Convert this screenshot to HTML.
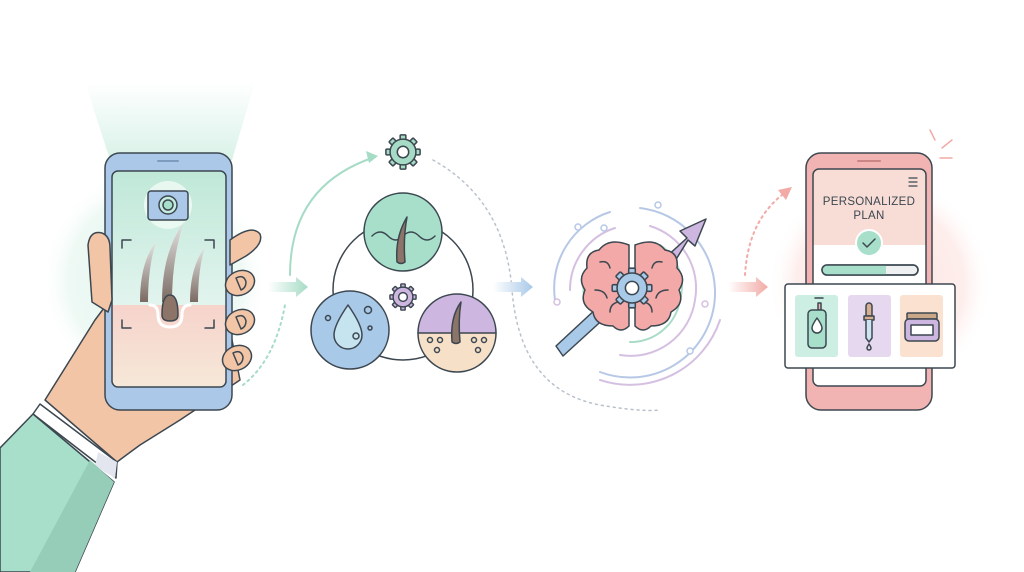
<!DOCTYPE html>
<html><head><meta charset="utf-8"><style>
html,body{margin:0;padding:0;background:#fff;}
svg{display:block;}
text{font-family:"Liberation Sans",sans-serif;}
</style></head><body>
<svg width="1024" height="572" viewBox="0 0 1024 572" xmlns="http://www.w3.org/2000/svg">
<defs>
<radialGradient id="gm" cx="0.5" cy="0.5" r="0.5"><stop offset="0" stop-color="#e2f5ed"/><stop offset="0.75" stop-color="#eef9f4"/><stop offset="1" stop-color="#fff" stop-opacity="0"/></radialGradient>
<radialGradient id="gp" cx="0.5" cy="0.5" r="0.5"><stop offset="0" stop-color="#fbe3df"/><stop offset="0.75" stop-color="#fdeeec"/><stop offset="1" stop-color="#fff" stop-opacity="0"/></radialGradient>
<linearGradient id="beam" x1="0" y1="0" x2="0" y2="1"><stop offset="0" stop-color="#fff"/><stop offset="1" stop-color="#d9f2e8"/></linearGradient>
<linearGradient id="scrTop" x1="0" y1="0" x2="0" y2="1"><stop offset="0" stop-color="#bfe8d8"/><stop offset="1" stop-color="#e2f4ee"/></linearGradient>
<linearGradient id="scrBot" x1="0" y1="0" x2="0" y2="1"><stop offset="0" stop-color="#f6d3cb"/><stop offset="1" stop-color="#f6e8d8"/></linearGradient>
<linearGradient id="hair" x1="0" y1="0" x2="0" y2="1"><stop offset="0" stop-color="#e4e4e4"/><stop offset="1" stop-color="#7a6a62"/></linearGradient>
<linearGradient id="a1" x1="0" x2="1"><stop offset="0" stop-color="#fff"/><stop offset="1" stop-color="#a6dcc6"/></linearGradient>
<linearGradient id="a2" x1="0" x2="1"><stop offset="0" stop-color="#fff"/><stop offset="1" stop-color="#a9c9e8"/></linearGradient>
<linearGradient id="a3" x1="0" x2="1"><stop offset="0" stop-color="#fff"/><stop offset="1" stop-color="#f2aaa6"/></linearGradient>
<g id="teeth">
<rect x="-9" y="-1.5" width="18" height="3" rx="0.5"/>
<rect x="-9" y="-1.5" width="18" height="3" rx="0.5" transform="rotate(45)"/>
<rect x="-9" y="-1.5" width="18" height="3" rx="0.5" transform="rotate(90)"/>
<rect x="-9" y="-1.5" width="18" height="3" rx="0.5" transform="rotate(135)"/>
</g>
</defs>
<g stroke="#3c4750" stroke-width="1.5" stroke-linejoin="round" stroke-linecap="round">
<!-- glows -->
<circle cx="155" cy="280" r="115" fill="url(#gm)" stroke="none"/>
<polygon points="85,82 255,82 232,160 110,160" fill="url(#beam)" stroke="none"/>
<circle cx="880" cy="285" r="112" fill="url(#gp)" stroke="none"/>

<!-- sleeve & hand -->
<path d="M45,400 L95,320 L110,300 L230,330 L240,380 L180,420 L140,445 L117,462 Z" fill="#f3c5a7"/>
<path d="M40,404 L117,462 L116,478 L33,414 Z" fill="#fff"/>
<path d="M98,452 L117,462 L115,478 L95,466 Z" fill="#e3e5ef" stroke="none"/>
<path d="M0,448 L33,414 L114,482 L75,572 L0,572 Z" fill="#a8dfcb"/>
<path d="M90,460 L114,482 L75,572 L30,572 Z" fill="#96cdb9" stroke="none"/>

<!-- phone 1 -->
<rect x="105" y="153" width="127" height="257" rx="15" fill="#abc8e8"/>
<line x1="158" y1="161" x2="178" y2="161" stroke="#7d9bbd" stroke-width="2"/>
<path d="M112,305 V177 a6,6 0 0 1 6,-6 H220 a6,6 0 0 1 6,6 V305 Z" fill="url(#scrTop)" stroke="none"/>
<path d="M112,305 H226 V381 a6,6 0 0 1 -6,6 H118 a6,6 0 0 1 -6,-6 Z" fill="url(#scrBot)" stroke="none"/>
<rect x="112" y="171" width="114" height="216" rx="6" fill="none"/>
<circle cx="168" cy="205" r="24" fill="#eefaf5" stroke="none" opacity="0.85"/>
<rect x="148" y="191" width="40" height="29" rx="3" fill="#abc8e8"/>
<circle cx="168" cy="205" r="9" fill="#c6ece0"/><circle cx="168" cy="205" r="5" fill="#a8dfcb"/>
<path d="M122,248 v-8 h9 M205,240 h9 v8 M122,320 v8 h9 M214,320 v8 h-9" fill="none"/>
<path d="M140,302 q0,-40 16,-60 q-8,25 -8,60 Z" fill="url(#hair)" stroke="none"/>
<path d="M162,302 q0,-50 22,-80 q-12,35 -12,80 Z" fill="url(#hair)" stroke="none"/>
<path d="M190,302 q0,-35 15,-55 q-7,22 -7,55 Z" fill="url(#hair)" stroke="none"/>
<path d="M150,305 q8,0 8,10 q0,12 12,12 q12,0 12,-12 q0,-10 8,-10" fill="none" stroke="#fff" stroke-width="3"/>
<path d="M162,315 q0,-20 8,-20 q8,0 8,20 q0,6 -8,6 q-8,0 -8,-6Z" fill="#8c7468"/>
<!-- thumb -->
<path d="M108,312 L92,302 L88,245 q2,-15 14,-12 q8,3 8,15 L112,300 Z" fill="#f3c5a7"/>
<!-- fingers -->
<path d="M230,240 q22,-16 30,-6 q4,10 -14,22 L230,265 Z" fill="#f3c5a7"/>
<ellipse cx="240" cy="283" rx="15" ry="12" fill="#f3c5a7" transform="rotate(-25 240 283)"/>
<ellipse cx="240" cy="322" rx="15" ry="12" fill="#f3c5a7" transform="rotate(-25 240 322)"/>
<ellipse cx="237" cy="358" rx="15" ry="12" fill="#f3c5a7" transform="rotate(-25 237 358)"/>
<path d="M236,278 q8,-4 10,4 q0,6 -5,8Z M236,317 q8,-4 10,4 q0,6 -5,8Z M233,353 q8,-4 10,4 q0,6 -5,8Z" fill="#f3c5a7"/>

<!-- connector 1 -->
<polygon points="268,282 296,282 296,277 308,287 296,297 296,292 268,292" fill="url(#a1)" stroke="none"/>
<path d="M290,275 Q290,185 375,157" fill="none" stroke="#a6dcc6" stroke-width="2"/>
<polygon points="378,156 366,151 369,163" fill="#a6dcc6" stroke="none"/>
<path d="M243,385 Q275,360 285,305" fill="none" stroke="#a6dcc6" stroke-width="2" stroke-dasharray="2,4"/>

<!-- gear top -->
<g transform="translate(403,152) scale(1.9)" fill="#a6dcc6" stroke-width="0.8">
<use href="#teeth"/>
<circle r="6.8"/><circle r="3" fill="#fff"/>
</g>
<path d="M433,160 Q505,200 512,290 Q520,390 600,405 Q640,412 660,410" fill="none" stroke="#b8c2cc" stroke-width="1.5" stroke-dasharray="2,4"/>

<!-- cluster -->
<circle cx="403" cy="290" r="70" fill="#fff"/>
<circle cx="403" cy="232" r="39" fill="#a8dfcb"/>
<path d="M372,236 q8,-8 16,0 q8,8 15,0 q8,-8 16,0 q8,8 16,0" fill="none"/>
<path d="M397,262 q-2,-25 10,-45 q-4,22 -2,45 q-4,3 -8,0Z" fill="#8c7468"/>
<circle cx="350" cy="330" r="39" fill="#a9c9e8"/>
<path d="M348,305 q-14,20 -14,30 a14,14 0 0 0 28,0 q0,-10 -14,-30Z" fill="#c6e3f0"/>
<circle cx="368" cy="310" r="3.5" fill="none"/><circle cx="328" cy="318" r="2.5" fill="none"/><circle cx="370" cy="328" r="2" fill="none"/><circle cx="356" cy="336" r="3" fill="none"/>
<path d="M457,294 a39,39 0 0 1 39,39 H418 a39,39 0 0 1 39,-39Z" fill="#cdb6e0" stroke="none"/>
<path d="M418,333 H496 a39,39 0 0 1 -78,0Z" fill="#f6e0c8" stroke="none"/>
<circle cx="457" cy="333" r="39" fill="none"/>
<line x1="418" y1="333" x2="496" y2="333"/>
<path d="M452,342 q-2,-25 9,-40 q-3,18 -1,40 q-4,3 -8,0Z" fill="#8c7468"/>
<circle cx="430" cy="340" r="2.5" fill="none"/><circle cx="440" cy="340" r="2.5" fill="none"/><circle cx="474" cy="340" r="2.5" fill="none"/><circle cx="484" cy="340" r="2.5" fill="none"/><circle cx="437" cy="350" r="2.5" fill="none"/><circle cx="478" cy="350" r="2.5" fill="none"/>
<g transform="translate(403,297) scale(1.45)" fill="#cdb6e0" stroke-width="1">
<use href="#teeth"/>
<circle r="6.8"/><circle r="3" fill="#fff"/>
</g>

<!-- connector 2 -->
<polygon points="493,282 521,282 521,277 533,287 521,297 521,292 493,292" fill="url(#a2)" stroke="none"/>

<!-- brain rings -->
<g fill="none" stroke-width="2">
<path d="M555,300 A80,80 0 0 1 610,212" stroke="#b7c8e6"/>
<path d="M640,208 A85,85 0 0 1 715,290 A85,85 0 0 1 600,372" stroke="#b7c8e6"/>
<path d="M570,290 A65,65 0 0 1 615,228" stroke="#d5c0e2"/>
<path d="M650,226 A65,65 0 0 1 695,300 A65,65 0 0 1 620,355" stroke="#d5c0e2"/>
<path d="M585,300 A50,50 0 0 1 600,250" stroke="#a8dcc6"/>
<path d="M660,245 A50,50 0 0 1 680,300 A50,50 0 0 1 630,342" stroke="#a8dcc6"/>
<path d="M600,380 A95,95 0 0 0 720,320" stroke="#d5c0e2"/>
</g>
<circle cx="578" cy="227" r="3" fill="#fff" stroke="#b7c8e6"/>
<circle cx="604" cy="228" r="3" fill="#fff" stroke="#b7c8e6"/>
<circle cx="658" cy="205" r="3" fill="#fff" stroke="#b7c8e6"/>
<circle cx="705" cy="304" r="3" fill="#fff" stroke="#d5c0e2"/>
<circle cx="690" cy="351" r="3" fill="#fff" stroke="#b7c8e6"/>
<circle cx="557" cy="302" r="3" fill="#fff" stroke="#d5c0e2"/>
<!-- arrow -->
<polygon points="556,346 563,356 620,304 612,294" fill="#a9c9e8"/>
<polygon points="665,258 687,238 680,231 706,219 695,246 688,240 672,266" fill="#cdb6e0"/>
<!-- brain -->
<path d="M629,245 q-20,-8 -30,5 q-14,2 -12,18 q-10,10 -2,22 q-6,14 8,22 q2,14 20,14 q8,8 16,0 Z" fill="#f2a9a7"/>
<path d="M635,245 q20,-8 30,5 q14,2 12,18 q10,10 2,22 q6,14 -8,22 q-2,14 -20,14 q-8,8 -16,0 Z" fill="#f2a9a7"/>
<path d="M600,262 q8,-2 10,6 M595,290 q10,0 12,8 M610,312 q0,-8 8,-10 M662,262 q-8,-2 -10,6 M668,290 q-10,0 -12,8 M652,312 q0,-8 -8,-10" fill="none"/>
<g transform="translate(632,288) scale(2.2)" fill="#a9c9e8" stroke-width="0.7">
<use href="#teeth"/>
<circle r="6.8"/><circle r="3" fill="#fff"/>
</g>

<!-- connector 3 -->
<polygon points="728,282 756,282 756,277 768,287 756,297 756,292 728,292" fill="url(#a3)" stroke="none"/>
<path d="M745,275 Q748,222 782,195" fill="none" stroke="#f2aaa6" stroke-width="2" stroke-dasharray="2,4"/>
<polygon points="792,187 778,190 786,200" fill="#f2aaa6" stroke="none"/>
<path d="M935,140 L930,130 M942,148 L952,140 M940,158 L952,158" stroke="#f2aaa6" stroke-width="1.5"/>

<!-- phone 3 -->
<rect x="806" y="153" width="126" height="257" rx="15" fill="#f2b4b2"/>
<line x1="858" y1="161" x2="880" y2="161" stroke="#c98583" stroke-width="2"/>
<path d="M813,245 V175 a6,6 0 0 1 6,-6 H920 a6,6 0 0 1 6,6 V245 Z" fill="#f8dcd6" stroke="none"/>
<path d="M813,245 H926 V380 a6,6 0 0 1 -6,6 H819 a6,6 0 0 1 -6,-6 Z" fill="#fff" stroke="none"/>
<rect x="813" y="169" width="113" height="217" rx="6" fill="none"/>
<path d="M909,178 h8 M909,182 h8 M909,186 h8" stroke-width="1.2"/>
<text x="869" y="205" font-size="11.5" text-anchor="middle" fill="#3c4750" stroke="none" letter-spacing="0.3">PERSONALIZED</text>
<text x="869" y="219" font-size="11.5" text-anchor="middle" fill="#3c4750" stroke="none" letter-spacing="0.3">PLAN</text>
<circle cx="869" cy="243" r="13" fill="#a8dfcb" stroke="#fff" stroke-width="2"/>
<path d="M863,243 l4,4 l8,-8" fill="none" stroke="#3c4750"/>
<rect x="822" y="265" width="96" height="10" rx="5" fill="#eef0f2"/>
<path d="M827,265 H886 V275 H827 a5,5 0 0 1 0,-10Z" fill="#a8dfcb" stroke="none"/>
<rect x="822" y="265" width="96" height="10" rx="5" fill="none"/>
<rect x="785" y="284" width="170" height="84" rx="3" fill="#fff"/>
<rect x="795" y="295" width="43" height="62" rx="3" fill="#cdeee2" stroke="none"/>
<rect x="848" y="295" width="43" height="62" rx="3" fill="#e6d9ef" stroke="none"/>
<rect x="900" y="295" width="43" height="62" rx="3" fill="#fbe2d0" stroke="none"/>
<rect x="818" y="303" width="3" height="7" fill="#f2b4b2"/>
<path d="M815,298 h8"/>
<rect x="808" y="310" width="18" height="38" rx="4" fill="#a8dfcb"/>
<path d="M817,318 q-5,7 -5,10 a5,5 0 0 0 10,0 q0,-3 -5,-10Z" fill="#fff"/>
<path d="M866,316 v-10 a3,3 0 0 1 6,0 v10 Z" fill="#d8b090"/>
<rect x="864" y="316" width="10" height="4" fill="#d8b090"/>
<path d="M866,320 v18 l3,4 l3,-4 v-18" fill="#cfe4f2"/>
<path d="M869,344 q-2,3 -2,4 a2,2 0 0 0 4,0 q0,-1 -2,-4Z" fill="none"/>
<rect x="907" y="313" width="30" height="6" rx="1" fill="#c9a88a"/>
<rect x="905" y="319" width="34" height="22" rx="4" fill="#cdb6e0"/>
<rect x="911" y="325" width="22" height="10" fill="#fff"/>
</g>
</svg>
</body></html>
